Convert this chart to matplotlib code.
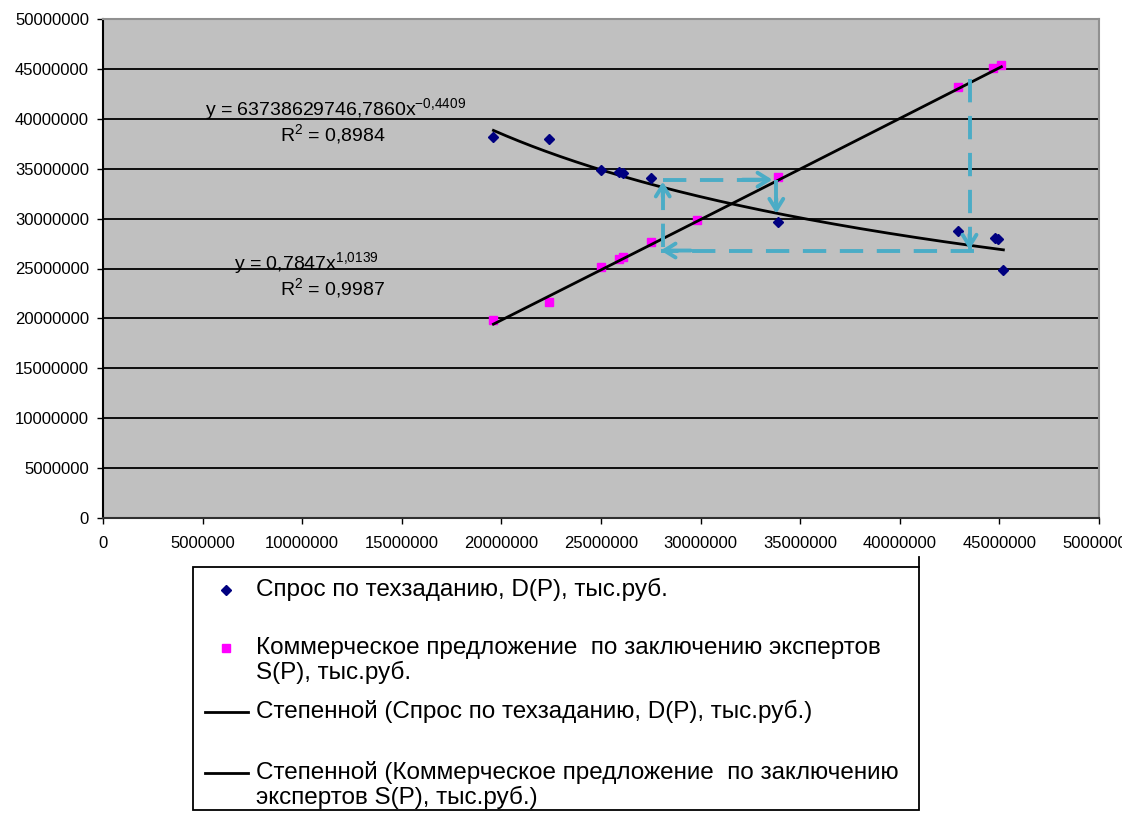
import matplotlib.pyplot as plt
import numpy as np
from matplotlib.lines import Line2D
from matplotlib.patches import Rectangle

plt.rcParams['font.family'] = ['Liberation Sans', 'DejaVu Sans']
plt.rcParams['mathtext.fontset'] = 'custom'
plt.rcParams['mathtext.rm'] = 'Liberation Sans'
plt.rcParams['mathtext.default'] = 'regular'

# demand D(P) and supply S(P)
d_x = [19.6e6, 22.4e6, 25.0e6, 25.9e6, 26.1e6, 27.5e6, 33.9e6, 42.9e6, 44.8e6, 44.95e6, 45.2e6]
d_y = [38.2e6, 38.0e6, 34.9e6, 34.7e6, 34.6e6, 34.1e6, 29.7e6, 28.8e6, 28.1e6, 28.0e6, 24.8e6]
s_x = [19.6e6, 22.4e6, 25.0e6, 25.9e6, 26.1e6, 27.5e6, 29.8e6, 33.9e6, 42.9e6, 44.7e6, 45.1e6]
s_y = [19.8e6, 21.6e6, 25.2e6, 26.0e6, 26.2e6, 27.7e6, 29.9e6, 34.2e6, 43.2e6, 45.1e6, 45.4e6]

# power trend lines y = a*x^b as printed on the chart
d_fit = (63738629746.7860, -0.4409)
s_fit = (0.7847, 1.0139)

ticks = np.arange(0, 50000001, 5000000)

# cobweb arrows (dashed segments, arrow head at the end of each)
cobweb = [
    ((43.5e6, 44.0e6), (43.5e6, 26.9e6)),
    ((43.7e6, 26.8e6), (28.0e6, 26.8e6)),
    ((28.1e6, 27.2e6), (28.1e6, 33.7e6)),
    ((28.1e6, 33.9e6), (33.6e6, 33.9e6)),
    ((33.8e6, 33.9e6), (33.8e6, 30.5e6)),
]

legend_labels = [
    "Спрос по техзаданию, D(P), тыс.руб.",
    "Коммерческое предложение  по заключению экспертов\nS(P), тыс.руб.",
    "Степенной (Спрос по техзаданию, D(P), тыс.руб.)",
    "Степенной (Коммерческое предложение  по заключению\nэкспертов S(P), тыс.руб.)",
]

W, H = 1122, 814
fig = plt.figure(figsize=(W / 100, H / 100), dpi=100)
ax = fig.add_axes([103 / W, 1 - 518 / H, 996 / W, 499 / H])
ax.set_facecolor("#C0C0C0")

ax.set_xlim(0, 50000000)
ax.set_ylim(0, 50000000)
ax.set_xticks(ticks)
ax.set_yticks(ticks)
ax.set_xticklabels([str(t) for t in ticks])
ax.set_yticklabels([str(t) for t in ticks])
ax.tick_params(axis="both", direction="out", length=4, width=1, labelsize=12)
ax.tick_params(axis="x", pad=9)
ax.tick_params(axis="y", pad=6)
for yv in ticks[1:]:
    ax.axhline(yv, color="black", lw=1.3, zorder=1)
ax.spines["left"].set_color("black")
ax.spines["bottom"].set_color("#303030")
ax.spines["top"].set_color("#909090")
ax.spines["right"].set_color("#909090")
for s in ax.spines.values():
    s.set_linewidth(1.5)

# trend lines
xd = np.linspace(min(d_x), max(d_x), 200)
ax.plot(xd, d_fit[0] * xd ** d_fit[1], color="black", lw=2, zorder=3)
xs = np.linspace(min(s_x), max(s_x), 200)
ax.plot(xs, s_fit[0] * xs ** s_fit[1], color="black", lw=2, zorder=3)

ax.plot(d_x, d_y, linestyle="none", marker="D", ms=5.2, color="#000080", zorder=4)
ax.plot(s_x, s_y, linestyle="none", marker="s", ms=5.8, color="#FF00FF", zorder=2)

acol = "#4BACC6"
for (x0, y0), (x1, y1) in cobweb:
    ax.plot([x0, x1], [y0, y1], color=acol, lw=2.8, dashes=(6, 3.5), zorder=5,
            solid_capstyle="butt")
    dx, dy = x1 - x0, y1 - y0
    n = np.hypot(dx, dy)
    ax.annotate("", xy=(x1, y1), xytext=(x1 - dx / n * 1.5e6, y1 - dy / n * 1.5e6),
                arrowprops=dict(arrowstyle="->,head_length=0.8,head_width=0.5",
                                color=acol, lw=2.8, shrinkA=0, shrinkB=0), zorder=6)

# equations
ax.text(5.13e6, 40.4e6, r"y = 63738629746,7860x$^{\mathrm{-}0{,}4409}$", fontsize=14, va="baseline")
ax.text(8.9e6, 37.8e6, r"R$^{2}$ = 0,8984", fontsize=14, va="baseline")
ax.text(6.6e6, 24.9e6, r"y = 0,7847x$^{1{,}0139}$", fontsize=14, va="baseline")
ax.text(8.9e6, 22.4e6, r"R$^{2}$ = 0,9987", fontsize=14, va="baseline")

# legend box drawn in figure pixels
def fx(px):
    return px / W

def fy(py):
    return 1 - py / H

fig.add_artist(Rectangle((fx(193), fy(810)), fx(919) - fx(193), fy(567) - fy(810),
                         transform=fig.transFigure, fill=False, edgecolor="black", lw=1.3))
fig.add_artist(Line2D([fx(919), fx(919)], [fy(557), fy(567)], transform=fig.transFigure,
                      color="black", lw=1.3))
fig.add_artist(Line2D([fx(226)], [fy(590)], transform=fig.transFigure, marker="D",
                      ms=5, color="#000080", linestyle="none"))
fig.add_artist(Line2D([fx(226)], [fy(648)], transform=fig.transFigure, marker="s",
                      ms=5.5, color="#FF00FF", linestyle="none"))
fig.add_artist(Line2D([fx(205), fx(248)], [fy(712), fy(712)], transform=fig.transFigure,
                      color="black", lw=2))
fig.add_artist(Line2D([fx(205), fx(248)], [fy(773), fy(773)], transform=fig.transFigure,
                      color="black", lw=2))
for lab, py in zip(legend_labels, [590, 649, 712, 773]):
    fig.text(fx(256), fy(py - 12), lab, fontsize=17.5, va="top", ha="left", linespacing=1.1)

fig.savefig("out.png", dpi=100)
